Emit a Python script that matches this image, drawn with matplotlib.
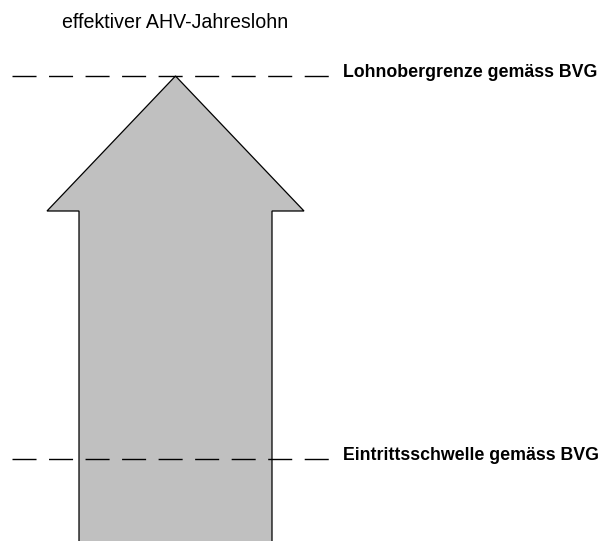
import matplotlib
matplotlib.use('Agg')
import matplotlib.pyplot as plt
from matplotlib.patches import Polygon

plt.rcParams['font.family'] = ['Liberation Sans', 'DejaVu Sans']

# === Inhalt ===
title = 'effektiver AHV-Jahreslohn'
threshold_labels = ['Lohnobergrenze gemäss BVG', 'Eintrittsschwelle gemäss BVG']
threshold_levels = [76, 459]   # Höhe der Schwellen (Pixel von oben)

# === Layout / Stil ===
W, H = 602, 541
ARROW_FILL = '#C0C0C0'
shaft_left, shaft_right = 79, 272
head_left, head_right = 47, 304
head_base = 211
line_x0, line_x1 = 12, 330
label_x = 343

fig = plt.figure(figsize=(W / 100, H / 100), dpi=100)
ax = fig.add_axes([0, 0, 1, 1])
ax.set_xlim(0, W)
ax.set_ylim(H, 0)
ax.axis('off')

# Pfeil: Spitze auf der Lohnobergrenze, Schaft geht unten aus dem Bild
tip_x = (head_left + head_right) / 2
arrow = Polygon([
    (shaft_left, H + 20), (shaft_left, head_base), (head_left, head_base),
    (tip_x, threshold_levels[0]), (head_right, head_base),
    (shaft_right, head_base), (shaft_right, H + 20)],
    closed=True, facecolor=ARROW_FILL, edgecolor='black', linewidth=0.9, zorder=1)
ax.add_patch(arrow)

# gestrichelte Schwellen + Beschriftung
for lab, lev in zip(threshold_labels, threshold_levels):
    ax.plot([line_x0, line_x1], [lev, lev], color='black', linewidth=1.0,
            linestyle=(0, (17.3, 9.0)), zorder=2)
    ax.text(label_x, lev - 3.5, lab, fontsize=12.8, fontweight='bold',
            ha='left', va='center', color='black')

ax.text(62, 23, title, fontsize=14.1, ha='left', va='center', color='black')

fig.savefig('out.png', dpi=100, facecolor='white')
plt.close()
